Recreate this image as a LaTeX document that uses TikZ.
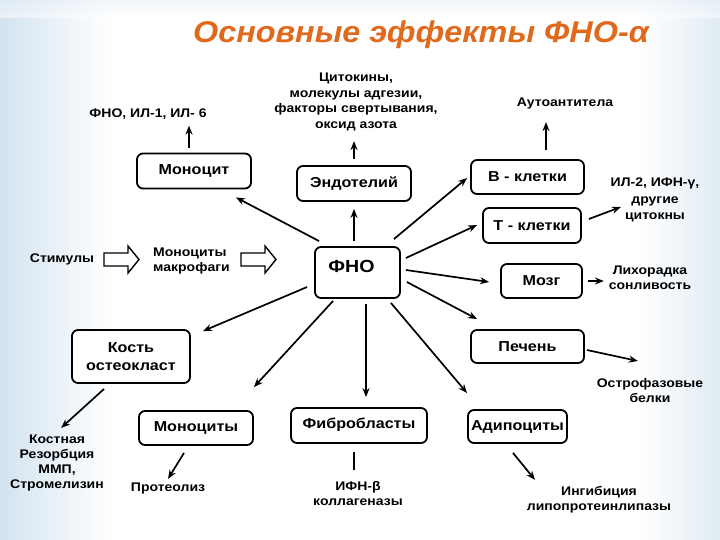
\documentclass[tikz,border=0pt]{standalone}
\usepackage{fontspec}
\setmainfont{Liberation Sans}
\newfontfamily\bodyf{Liberation Sans}[FakeStretch=1.12]
\newfontfamily\titlef{Liberation Sans}[FakeStretch=1.08]
\usetikzlibrary{arrows.meta,calc}
\definecolor{titlecol}{HTML}{E0691C}
\definecolor{bgblue}{HTML}{D3E3EF}
\begin{document}
\begin{tikzpicture}[x=1pt,y=-1pt,
  box/.style={draw,line width=1.8pt,rounded corners=6pt,fill=white,inner sep=0pt,
    font=\bodyf\bfseries\fontsize{14.4}{18}\selectfont,align=center},
  lbl/.style={font=\bodyf\bfseries\fontsize{12.5}{15.5}\selectfont,align=center,inner sep=0pt},
  arr/.style={line width=1.7pt,-{Stealth[length=9pt,width=7pt]}},
  plain/.style={line width=1.7pt},
  blockarr/.style={draw,line width=1.4pt,fill=white,line join=miter},
]
% background
\fill[white] (0,0) rectangle (720,540);
\shade[left color=bgblue,right color=white] (0,0) rectangle (110,540);
\shade[left color=white,right color=bgblue!70!white] (640,0) rectangle (720,540);
\shade[top color=bgblue!50!white,bottom color=white,opacity=0.5] (0,0) rectangle (720,18);
\useasboundingbox (0,0) rectangle (720,540);

% title
\node[font=\titlef\bfseries\itshape\fontsize{30}{36}\selectfont,text=titlecol,inner sep=0pt] (title) at (421,35) {Основные эффекты ФНО-α};

% boxes
\node[box,minimum width=114pt,minimum height=35pt] (mon) at (194,171) {Моноцит};
\node[box,minimum width=114pt,minimum height=35pt] (endo) at (354,183.5) {Эндотелий};
\node[box,minimum width=113pt,minimum height=34pt] (bcell) at (527.5,177) {В - клетки};
\node[box,minimum width=98pt,minimum height=35pt] (tcell) at (532,225.5) {Т - клетки};
\node[box,minimum width=81pt,minimum height=34pt] (brain) at (541.5,281) {Мозг};
\node[box,minimum width=85pt,minimum height=51pt,text height=12pt,text depth=12pt,
  font=\bodyf\bfseries\fontsize{17.5}{20}\selectfont] (fno) at (357.5,272.5) {ФНО\hspace*{12pt}};
\node[box,minimum width=113pt,minimum height=33pt] (liver) at (527.5,346.5) {Печень};
\node[box,minimum width=118pt,minimum height=53pt] (bone) at (131,356.5) {Кость\\остеокласт};
\node[box,minimum width=114pt,minimum height=34pt] (mon2) at (196,428) {Моноциты};
\node[box,minimum width=136pt,minimum height=35pt,text depth=5pt] (fib) at (359,425.5) {Фибробласты};
\node[box,minimum width=99pt,minimum height=33pt] (adip) at (517.5,426.5) {Адипоциты};

% labels
\node[lbl] (lmon) at (148,114) {ФНО, ИЛ-1, ИЛ- 6};
\node[lbl,font=\bodyf\bfseries\fontsize{12.5}{15.7}\selectfont] (lendo) at (356,102) {Цитокины,\\молекулы адгезии,\\факторы свертывания,\\оксид азота};
\node[lbl] (lb) at (565,103) {Аутоантитела};
\node[lbl,font=\bodyf\bfseries\fontsize{12.5}{16.5}\selectfont] (lt) at (655,200) {ИЛ-2, ИФН-γ,\\другие\\цитокны};
\node[lbl] (lbrain) at (650,278) {Лихорадка\\сонливость};
\node[lbl,font=\bodyf\bfseries\fontsize{12.5}{15}\selectfont] (lliver) at (650,391) {Острофазовые\\белки};
\node[lbl] (stim) at (62,259) {Стимулы};
\node[lbl,align=left,anchor=west,font=\bodyf\bfseries\fontsize{12.5}{15}\selectfont] (monmac) at (153,260.5) {Моноциты\\макрофаги};
\node[lbl,font=\bodyf\bfseries\fontsize{12.5}{14.7}\selectfont] (lbone) at (57,463) {Костная\\Резорбция\\ММП,\\Стромелизин};
\node[lbl] (lmon2) at (168,488) {Протеолиз};
\node[lbl,font=\bodyf\bfseries\fontsize{12.5}{15}\selectfont] (lfib) at (358,493.5) {ИФН-β\\коллагеназы};
\node[lbl,font=\bodyf\bfseries\fontsize{12.5}{15}\selectfont] (ladip) at (599,499.5) {Ингибиция\\липопротеинлипазы};

% block arrows
\draw[blockarr] ($(stim.center)+(42,0.5)$) ++(0,-6.5) -- ++(24,0) -- ++(0,-7) -- ++(11,13.5)
  -- ++(-11,13.5) -- ++(0,-7) -- ++(-24,0) -- cycle;
\draw[blockarr] ($(monmac.west)+(88,-1)$) ++(0,-6.5) -- ++(24,0) -- ++(0,-7) -- ++(11,13.5)
  -- ++(-11,13.5) -- ++(0,-7) -- ++(-24,0) -- cycle;

% arrows from FNO
\draw[arr] ($(fno.north west)+(5,-5)$) -- ($(mon.south east)+(-16,8)$);
\draw[arr] ($(fno.north)+(-3.5,-5)$) -- ($(endo.south)+(0,7)$);
\draw[arr] ($(fno.north east)+(-7,-7)$) -- ($(bcell.west)+(-3,1)$);
\draw[arr] ($(fno.east)+(5,-14.5)$) -- ($(tcell.west)+(-5,-0.5)$);
\draw[arr] ($(fno.east)+(5,-2.5)$) -- ($(brain.west)+(-11,1)$);
\draw[arr] ($(fno.east)+(6,9.5)$) -- ($(liver.north west)+(7,-10)$);
\draw[arr] ($(fno.west)+(-7,14.5)$) -- ($(bone.north east)+(12,2)$);
\draw[arr] ($(fno.south west)+(19,2)$) -- ($(mon2.north east)+(0,-23)$);
\draw[arr] ($(fno.south)+(8.5,5)$) -- ($(fib.north)+(7,-10)$);
\draw[arr] ($(fno.south east)+(-10,4)$) -- ($(adip.north west)+(0,-16)$);

% secondary arrows
\draw[arr] ($(mon.north)+(-5,-5)$) -- ($(mon.north)+(-5,-27)$);
\draw[arr] ($(endo.north)+(0,-6)$) -- ($(endo.north)+(0,-24)$);
\draw[arr] ($(bcell.north)+(18.5,-9)$) -- ($(bcell.north)+(18.5,-37)$);
\draw[arr] ($(tcell.east)+(7,-6.5)$) -- ($(tcell.east)+(39,-18.5)$);
\draw[arr] ($(brain.east)+(5,0)$) -- ($(brain.east)+(21,0)$);
\draw[arr] ($(liver.east)+(2,3.5)$) -- ($(liver.east)+(53,14.5)$);
\draw[arr] ($(bone.south west)+(33,5)$) -- ($(bone.south west)+(-10,44)$);
\draw[arr] ($(mon2.south)+(-12,7)$) -- ($(mon2.south)+(-28,33)$);
\draw[plain] ($(fib.south)+(-5,8)$) -- ($(fib.south)+(-5,26)$);
\draw[arr] ($(adip.south)+(-4.5,9)$) -- ($(adip.south)+(17.5,36)$);
\end{tikzpicture}
\end{document}
